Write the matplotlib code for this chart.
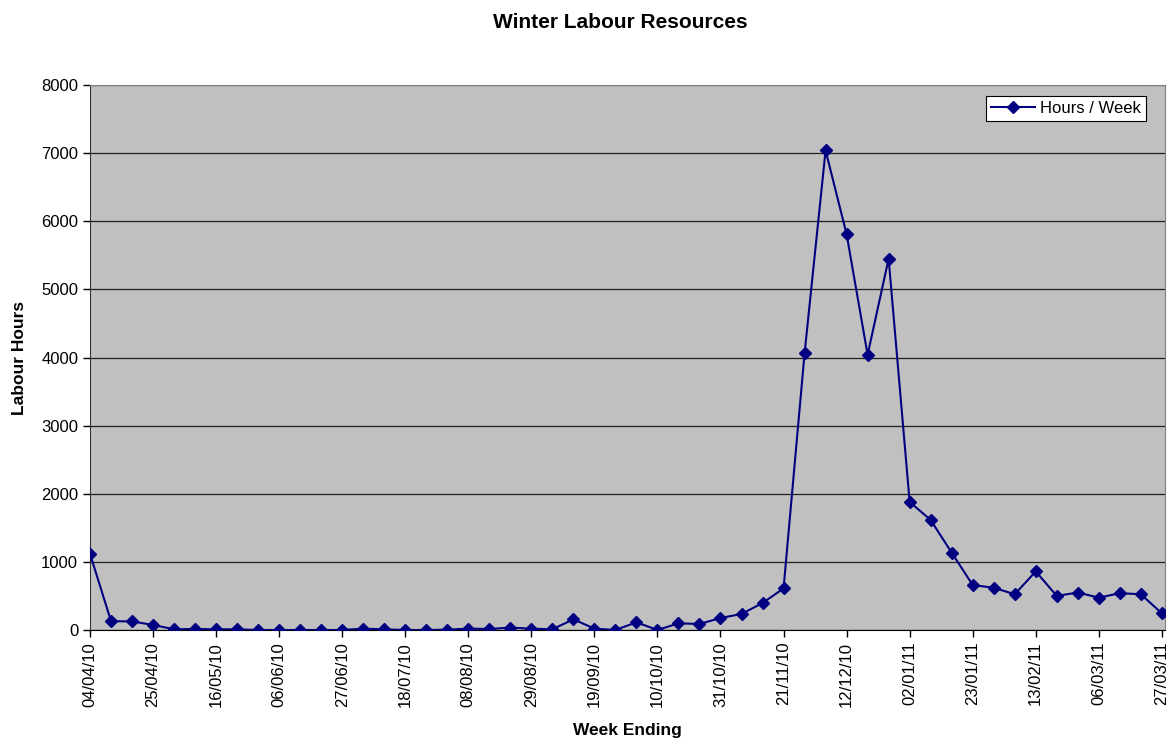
import matplotlib.pyplot as plt
import numpy as np

plt.rcParams["font.family"] = ["Liberation Sans", "DejaVu Sans"]

# weekly hours, week ending 04/04/10 .. 27/03/11
week_labels = ["04/04/10", "25/04/10", "16/05/10", "06/06/10", "27/06/10", "18/07/10",
               "08/08/10", "29/08/10", "19/09/10", "10/10/10", "31/10/10", "21/11/10",
               "12/12/10", "02/01/11", "23/01/11", "13/02/11", "06/03/11", "27/03/11"]
hours = [1120, 130, 125, 75, 10, 15, 10, 10, 0, 0,
         0, 0, 0, 20, 10, 0, 0, 5, 20, 15,
         35, 20, 10, 157, 20, 0, 113, 0, 98, 88,
         176, 235, 396, 610, 4060, 7040, 5810, 4040, 5450, 1880,
         1615, 1135, 660, 620, 525, 860, 500, 550, 475, 540,
         525, 245]

x = np.arange(len(hours))

fig = plt.figure(figsize=(11.75, 7.38), dpi=100)
ax = fig.add_axes([90 / 1175, 1 - 630 / 738, 1075 / 1175, 545 / 738])
ax.set_facecolor("#C0C0C0")

ax.plot(x, hours, color="#000080", lw=1.5, marker="D", ms=6.5,
        label="Hours / Week", zorder=3)

ax.set_xlim(0, 51.15)
ax.set_ylim(0, 8000)
ax.set_yticks(range(0, 8001, 1000))
ax.set_xticks(x[::3])
ax.set_xticklabels(week_labels, rotation=90, fontsize=12)
ax.tick_params(axis="y", labelsize=12)
ax.tick_params(direction="out", length=5, width=1, color="black")
ax.yaxis.grid(True, color="#202020", lw=0.9)
ax.set_axisbelow(True)

for side in ("top", "right"):
    ax.spines[side].set_color("#808080")
ax.spines["left"].set_color("#333333")
ax.spines["bottom"].set_color("black")

fig.text(620 / 1175, 1 - 22 / 738, "Winter Labour Resources", fontsize=15,
         fontweight="bold", ha="center", va="center")
ax.set_xlabel("Week Ending", fontsize=12.5, fontweight="bold", labelpad=12)
ax.set_ylabel("Labour Hours", fontsize=12.5, fontweight="bold", labelpad=10)

leg = ax.legend(loc="upper right", bbox_to_anchor=(0.982, 0.98), fontsize=12,
                frameon=True, fancybox=False, framealpha=1, edgecolor="black",
                handlelength=2.6, borderpad=0.3, handletextpad=0.3, borderaxespad=0)
leg.get_frame().set_linewidth(0.8)

fig.savefig("out.png", dpi=100)
